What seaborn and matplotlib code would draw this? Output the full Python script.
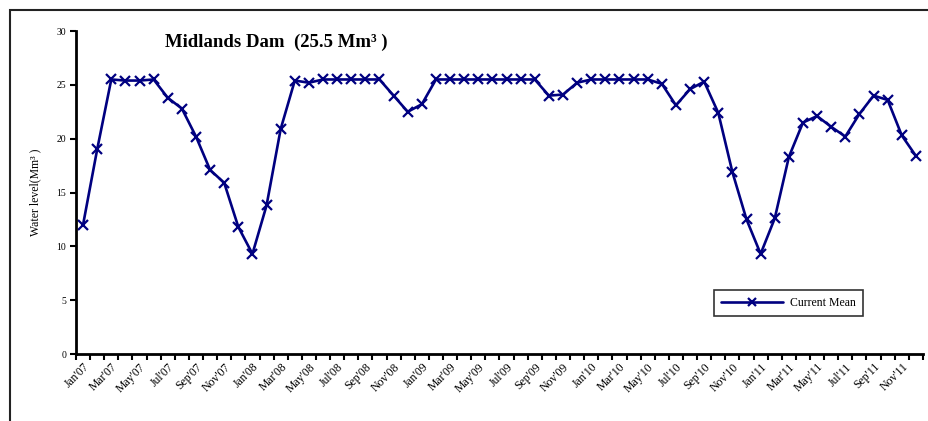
import matplotlib
matplotlib.use("Agg")
import matplotlib.pyplot as plt
import pandas as pd
import seaborn as sns
from matplotlib.patches import Rectangle

month_names = ["Jan", "Feb", "Mar", "Apr", "May", "Jun",
               "Jul", "Aug", "Sep", "Oct", "Nov", "Dec"]
years = ["07", "08", "09", "10", "11"]
months = [f"{m}'{y}" for y in years for m in month_names]

levels = [12.0, 19.0, 25.5, 25.4, 25.4, 25.5, 23.8, 22.8, 20.2, 17.1, 15.9, 11.8,
          9.3, 13.8, 20.9, 25.4, 25.2, 25.5, 25.5, 25.5, 25.5, 25.5, 24.0, 22.5,
          23.2, 25.5, 25.5, 25.5, 25.5, 25.5, 25.5, 25.5, 25.5, 24.0, 24.1, 25.2,
          25.5, 25.5, 25.5, 25.5, 25.5, 25.1, 23.1, 24.6, 25.3, 22.4, 16.9, 12.5,
          9.3, 12.6, 18.3, 21.5, 22.1, 21.1, 20.2, 22.3, 24.0, 23.6, 20.3, 18.4]

df = pd.DataFrame({"pos": range(len(months)), "month": months, "level": levels})

sns.set_style("white")
plt.rcParams["font.family"] = ["Liberation Serif", "DejaVu Serif"]
for key in ["text.color", "axes.labelcolor", "xtick.color", "ytick.color"]:
    plt.rcParams[key] = "black"

navy = "#000080"

fig = plt.figure(figsize=(9.29, 4.21), dpi=100)
ax = fig.add_axes([0.0818, 0.1591, 0.9117, 0.7672])

sns.lineplot(data=df, x="pos", y="level", ax=ax, color=navy,
             marker="x", markersize=6.5, markeredgewidth=1.6,
             markeredgecolor=navy, linewidth=1.9, label="Current Mean")

ax.set_xlim(-0.5, len(months) - 0.5)
ax.set_ylim(0, 30)
ax.set_yticks(range(0, 31, 5))
ax.tick_params(axis="y", left=True, direction="out", length=4, width=1.5,
               labelsize=7, pad=3)

ax.set_xticks(df["pos"][::2])
ax.set_xticklabels(df["month"][::2], rotation=45, ha="right",
                   rotation_mode="anchor", fontsize=8.5)
ax.tick_params(axis="x", which="major", bottom=True, length=0, pad=5)
ax.set_xticks([p - 0.5 for p in range(len(months) + 1)], minor=True)
ax.tick_params(axis="x", which="minor", bottom=True, direction="out",
               length=4, width=1.5)

for side in ["top", "right"]:
    ax.spines[side].set_visible(False)
for side in ["left", "bottom"]:
    ax.spines[side].set_linewidth(2)
    ax.spines[side].set_color("black")

ax.set_xlabel("")
ax.set_ylabel("Water level(Mm³ )", fontsize=8.5, labelpad=11)

ax.text(0.236, 0.966, "Midlands Dam  (25.5 Mm³ )", transform=ax.transAxes,
        ha="center", va="center", fontsize=13.5, fontweight="bold")

leg = ax.legend(loc="center", bbox_to_anchor=(0.841, 0.158), fontsize=8.5,
                frameon=True, fancybox=False, handlelength=5.2,
                handletextpad=0.6, borderpad=0.6, markerscale=0.8)
leg.get_frame().set_edgecolor("black")
leg.get_frame().set_linewidth(1.2)

fig.patches.append(Rectangle((10 / 929, -0.1), 1.2, 0.1 + 1 - 10 / 421,
                             transform=fig.transFigure, fill=False,
                             edgecolor="#222222", linewidth=1.5))

fig.savefig("out.png", dpi=100)
